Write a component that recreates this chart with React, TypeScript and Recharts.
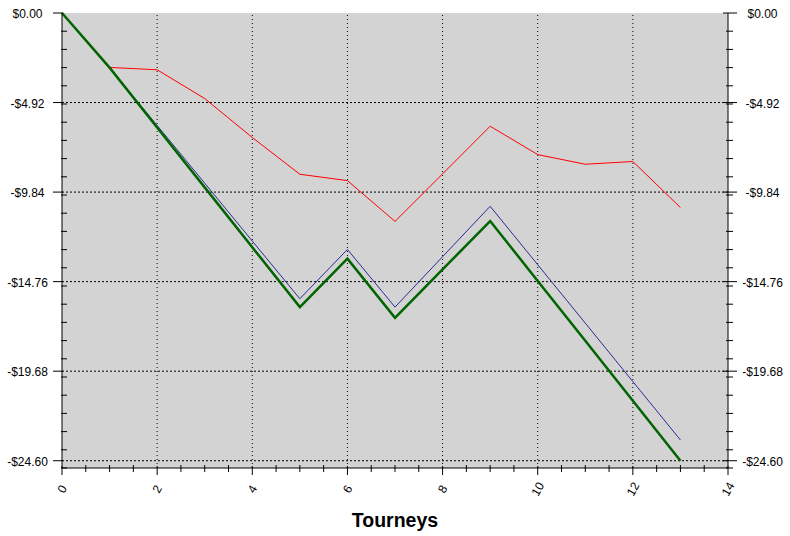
import React from 'react';
import { LineChart, Line, XAxis, YAxis, ReferenceArea, ReferenceLine } from 'recharts';

const tourneys = [0, 1, 2, 3, 4, 5, 6, 7, 8, 9, 10, 11, 12, 13];
const greenSeries = [0, -3.0, -6.29, -9.58, -12.87, -16.16, -13.5, -16.75, -14.09, -11.43, -14.72, -18.01, -21.3, -24.6];
const blueSeries = [0, -3.0, -6.18, -9.35, -12.53, -15.7, -12.99, -16.16, -13.39, -10.62, -13.83, -17.04, -20.25, -23.46];
const redSeries = [0, -2.99, -3.12, -4.7, -6.84, -8.86, -9.21, -11.45, -8.84, -6.22, -7.78, -8.31, -8.16, -10.69];

const yMajorTicks = [0, -4.92, -9.84, -14.76, -19.68, -24.6];
const yMinorTicks = [-1, -2, -3, -4, -5, -6, -7, -8, -9, -10, -11, -12, -13, -14, -15, -16, -17, -18, -19, -20, -21, -22, -23, -24, -25];
const xMajorTicks = [0, 2, 4, 6, 8, 10, 12, 14];
const xMinorTicks = [0.5, 1, 1.5, 2.5, 3, 3.5, 4.5, 5, 5.5, 6.5, 7, 7.5, 8.5, 9, 9.5, 10.5, 11, 11.5, 12.5, 13, 13.5];
const yGridValues = [-4.92, -9.84, -14.76, -19.68, -24.6];
const xGridValues = [2, 4, 6, 8, 10, 12];

const yTicks = [...yMajorTicks, ...yMinorTicks].sort((a, b) => b - a);
const xTicks = [...xMajorTicks, ...xMinorTicks].sort((a, b) => a - b);

const data = tourneys.map((t, i) => ({
  t,
  green: greenSeries[i],
  blue: blueSeries[i],
  red: redSeries[i],
}));

const fmtMoney = (v: number) => (v < 0 ? '-$' : '$') + Math.abs(v).toFixed(2);
const isYMajor = (v: number) => yMajorTicks.some((m) => Math.abs(m - v) < 1e-9);
const isXMajor = (v: number) => xMajorTicks.some((m) => Math.abs(m - v) < 1e-9);

const LeftTick = (props: any) => {
  const { x, y, payload } = props;
  const v = payload.value;
  if (isYMajor(v)) {
    return (
      <g>
        <line x1={x - 9} x2={x + 1} y1={y} y2={y} stroke="#000" strokeWidth={1} />
        <text x={27.5} y={y + 5} textAnchor="middle" fontSize={12} fill="#000">
          {fmtMoney(v)}
        </text>
      </g>
    );
  }
  return <line x1={x - 1} x2={x + 5} y1={y} y2={y} stroke="#000" strokeWidth={1} />;
};

const RightTick = (props: any) => {
  const { x, y, payload } = props;
  const v = payload.value;
  if (isYMajor(v)) {
    return (
      <g>
        <line x1={x - 5} x2={x + 9} y1={y} y2={y} stroke="#000" strokeWidth={1} />
        <text x={762.5} y={y + 5} textAnchor="middle" fontSize={12} fill="#000">
          {fmtMoney(v)}
        </text>
      </g>
    );
  }
  return <line x1={x - 2} x2={x + 5} y1={y} y2={y} stroke="#000" strokeWidth={1} />;
};

const BottomTick = (props: any) => {
  const { x, y, payload } = props;
  const v = payload.value;
  if (isXMajor(v)) {
    const ly = y + 21;
    return (
      <g>
        <line x1={x} x2={x} y1={y - 2} y2={y + 7} stroke="#000" strokeWidth={1} />
        <text
          x={x}
          y={ly}
          dy="0.35em"
          textAnchor="middle"
          fontSize={12}
          fill="#000"
          transform={`rotate(-60, ${x}, ${ly})`}
        >
          {String(v)}
        </text>
      </g>
    );
  }
  return <line x1={x} x2={x} y1={y - 3} y2={y + 4} stroke="#000" strokeWidth={1} />;
};

const TopTick = (props: any) => {
  const { x, y } = props;
  return <line x1={x} x2={x} y1={y} y2={y + 4} stroke="#000" strokeWidth={1} />;
};

const TitleLabel = (props: any) => {
  const vb = props.viewBox || { x: 62, y: 468, width: 666, height: 68 };
  return (
    <text
      x={vb.x + vb.width / 2}
      y={vb.y + vb.height - 9}
      textAnchor="middle"
      fontSize={19.5}
      fontWeight="bold"
      fill="#000"
    >
      Tourneys
    </text>
  );
};

export default function App() {
  return (
    <div style={{ position: 'absolute', left: 0, top: 0, width: 790, height: 536, background: '#fff' }}>
      <LineChart
        width={790}
        height={536}
        data={data}
        margin={{ top: 13, right: 0, bottom: 0, left: 0 }}
        style={{ fontFamily: '"Liberation Sans", Arial, sans-serif' }}
      >
        <XAxis
          xAxisId="b"
          dataKey="t"
          type="number"
          domain={[0, 14]}
          ticks={xTicks}
          interval={0}
          height={68}
          tickSize={0}
          tickMargin={0}
          tickLine={false}
          axisLine={{ stroke: '#000' }}
          tick={<BottomTick />}
          label={<TitleLabel />}
        />
        <XAxis
          xAxisId="t"
          orientation="top"
          dataKey="t"
          type="number"
          domain={[0, 14]}
          ticks={xTicks}
          interval={0}
          height={0}
          tickSize={0}
          tickMargin={0}
          tickLine={false}
          axisLine={{ stroke: '#000' }}
          tick={<TopTick />}
        />
        <YAxis
          yAxisId="l"
          type="number"
          domain={[-25, 0]}
          ticks={yTicks}
          interval={0}
          width={62}
          tickSize={0}
          tickMargin={0}
          tickLine={false}
          axisLine={{ stroke: '#000' }}
          tick={<LeftTick />}
        />
        <YAxis
          yAxisId="r"
          orientation="right"
          type="number"
          domain={[-25, 0]}
          ticks={yTicks}
          interval={0}
          width={62}
          tickSize={0}
          tickMargin={0}
          tickLine={false}
          axisLine={{ stroke: '#000' }}
          tick={<RightTick />}
        />
        <ReferenceArea
          xAxisId="b"
          yAxisId="l"
          x1={0}
          x2={14}
          y1={-25}
          y2={0}
          fill="#d3d3d3"
          fillOpacity={1}
          stroke="none"
        />
        {yGridValues.map((v) => (
          <ReferenceLine
            key={'hy' + v}
            xAxisId="b"
            yAxisId="l"
            y={v}
            stroke="#000"
            strokeWidth={1}
            strokeDasharray="2 2"
          />
        ))}
        {xGridValues.map((v) => (
          <ReferenceLine
            key={'vx' + v}
            xAxisId="b"
            yAxisId="l"
            x={v}
            stroke="#000"
            strokeWidth={1}
            strokeDasharray="1 3"
          />
        ))}
        <Line
          xAxisId="t"
          yAxisId="r"
          type="linear"
          dataKey="red"
          stroke="#ff0000"
          strokeWidth={1}
          dot={false}
          isAnimationActive={false}
        />
        <Line
          xAxisId="b"
          yAxisId="l"
          type="linear"
          dataKey="blue"
          stroke="#2b2b95"
          strokeWidth={1}
          dot={false}
          isAnimationActive={false}
        />
        <Line
          xAxisId="b"
          yAxisId="l"
          type="linear"
          dataKey="green"
          stroke="#006400"
          strokeWidth={2.5}
          dot={false}
          isAnimationActive={false}
        />
      </LineChart>
    </div>
  );
}
